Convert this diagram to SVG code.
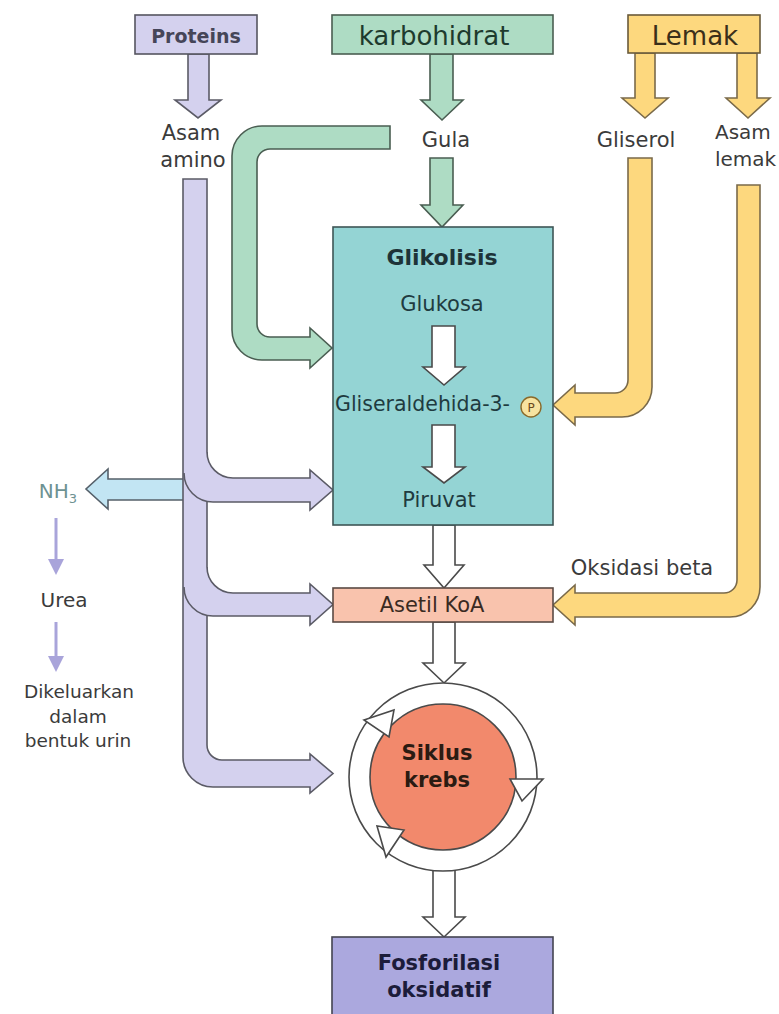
<svg xmlns="http://www.w3.org/2000/svg" width="779" height="1014" viewBox="0 0 779 1014">
<defs>
<style>
text{font-family:"DejaVu Sans","Liberation Sans",sans-serif;fill:#3b3b3b;text-anchor:middle}
.b{font-weight:bold}
.pur{fill:#d4d1ee;stroke:#5b5b66;stroke-width:1.6}
.grn{fill:#aedcc4;stroke:#4a5e52;stroke-width:1.6}
.yel{fill:#fdd87e;stroke:#7a6a4a;stroke-width:1.6}
.wht{fill:#ffffff;stroke:#4a4a4a;stroke-width:1.6}
.blu{fill:#c2e5f3;stroke:#55606a;stroke-width:1.6}
.lav{stroke:#a9a4da;stroke-width:3;fill:none}
.lavh{fill:#a9a4da}
</style>
</defs>
<rect width="779" height="1014" fill="#ffffff"/>
<g id="connectors">
<path class="pur" d="M188,54 L188,100 L175,100 L198,118 L221,100 L209,100 L209,54 Z"/>
<path class="grn" d="M430,54 L430,100 L421,100 L442,120 L463,100 L453,100 L453,54 Z"/>
<path class="grn" d="M430,158 L430,205 L421,205 L442,227 L463,205 L453,205 L453,158 Z"/>
<path class="grn" d="M390,126 L262,126 A30,30 0 0 0 232,156 L232,330 A30,30 0 0 0 262,360 L310,360 L310,368 L332,348 L310,328 L310,337 L270,337 A13,13 0 0 1 257,324 L257,162 A13,13 0 0 1 270,149 L390,149 Z"/>
<path class="yel" d="M635,53 L635,98 L622,98 L645,118 L668,98 L655,98 L655,53 Z"/>
<path class="yel" d="M737,53 L737,98 L726,98 L748,118 L770,98 L757,98 L757,53 Z"/>
<path class="yel" d="M628,158 L652,158 L652,387 A30,30 0 0 1 622,417 L575,417 L575,425 L553,405 L575,385 L575,393 L615,393 A13,13 0 0 0 628,380 Z"/>
<path class="yel" d="M737,185 L760,185 L760,587 A30,30 0 0 1 730,617 L575,617 L575,625 L553,605 L575,585 L575,593 L724,593 A13,13 0 0 0 737,580 Z"/>
<path class="blu" d="M184,479 L108,479 L108,469 L86,489 L108,509 L108,500 L184,500"/>
<path class="pur" d="M183,179 L183,757 A30,30 0 0 0 213,787 L310,787 L310,793 L333,773.5 L310,754 L310,760 L222,760 A15,15 0 0 1 207,745 L207,179 Z"/>
<path fill="#d4d1ee" d="M185,452 L207,452 A26,26 0 0 0 233,478 L310,478 L310,470 L333,490 L310,510 L310,502 L213,502 A29,29 0 0 1 184,473 Z"/>
<path fill="none" stroke="#5b5b66" stroke-width="1.6" d="M207,452 A26,26 0 0 0 233,478 L310,478 L310,470 L333,490 L310,510 L310,502 L213,502 A29,29 0 0 1 184,473"/>
<path fill="#d4d1ee" d="M185,567 L207,567 A26,26 0 0 0 233,593 L310,593 L310,584 L333,604.5 L310,625 L310,616 L213,616 A29,29 0 0 1 184,587 Z"/>
<path fill="none" stroke="#5b5b66" stroke-width="1.6" d="M207,567 A26,26 0 0 0 233,593 L310,593 L310,584 L333,604.5 L310,625 L310,616 L213,616 A29,29 0 0 1 184,587"/>
<path class="wht" d="M433,525 L433,565 L424,565 L444,588 L464,565 L455,565 L455,525 Z"/>
<path class="wht" d="M433,622 L433,663 L423,663 L444,683 L465,663 L455,663 L455,622 Z"/>
<path class="wht" d="M433,870 L433,917 L423,917 L444,937 L465,917 L455,917 L455,870 Z"/>
<line class="lav" x1="56" y1="518" x2="56" y2="562"/>
<polygon class="lavh" points="48,559 64,559 56,575"/>
<line class="lav" x1="56" y1="622" x2="56" y2="659"/>
<polygon class="lavh" points="48,656 64,656 56,672"/>
</g>
<g id="proteins">
<rect x="135" y="15" width="122" height="39" fill="#d4d1ee" stroke="#555560" stroke-width="1.6"/>
<text class="b" x="196" y="43" font-size="19" style="fill:#454558">Proteins</text>
</g>
<g id="karbohidrat">
<rect x="332" y="15" width="221" height="39" fill="#aedcc4" stroke="#4a5e52" stroke-width="1.6"/>
<text x="434" y="45" font-size="26" style="fill:#1e3b2e">karbohidrat</text>
</g>
<g id="lemak">
<rect x="628" y="15" width="132" height="38" fill="#fdd87e" stroke="#6a5a3a" stroke-width="1.6"/>
<text x="695" y="45" font-size="26" style="fill:#3b2f1a">Lemak</text>
</g>
<g id="asam-amino">
<text x="191" y="140" font-size="21">Asam</text>
<text x="193" y="167" font-size="21">amino</text>
</g>
<g id="gula">
<text x="446" y="147" font-size="21">Gula</text>
</g>
<g id="gliserol">
<text x="636" y="147" font-size="21">Gliserol</text>
</g>
<g id="asam-lemak">
<text x="715" y="139" font-size="20" style="text-anchor:start">Asam</text>
<text x="715" y="166" font-size="20" style="text-anchor:start">lemak</text>
</g>
<g id="glikolisis">
<rect x="333" y="227" width="220" height="298" fill="#94d4d4" stroke="#3e5555" stroke-width="1.6"/>
<text class="b" x="442" y="265" font-size="22" style="fill:#1d3338">Glikolisis</text>
<text x="442" y="311" font-size="21" style="fill:#1f3b40">Glukosa</text>
<path class="wht" d="M432,326 L432,367 L423,367 L444,385 L465,367 L455,367 L455,326 Z"/>
<text x="335" y="411" font-size="20.5" style="fill:#1f3b40;text-anchor:start">Gliseraldehida-3-</text>
<circle cx="531" cy="407" r="10" fill="#f7e3a0" stroke="#8a6a2a" stroke-width="1.4"/>
<text x="531" y="412" font-size="12" style="fill:#6a4a20">P</text>
<path class="wht" d="M432,425 L432,467 L423,467 L444,483 L465,467 L455,467 L455,425 Z"/>
<text x="439" y="507" font-size="21" style="fill:#1f3b40">Piruvat</text>
</g>
<g id="nh3">
<text x="58" y="498" font-size="20" style="fill:#6e9292">NH<tspan font-size="13" dy="5">3</tspan></text>
</g>
<g id="urea">
<text x="64" y="607" font-size="20">Urea</text>
</g>
<g id="dikeluarkan">
<text x="79" y="698" font-size="18.5">Dikeluarkan</text>
<text x="78" y="723" font-size="18.5">dalam</text>
<text x="78" y="747" font-size="18.5">bentuk urin</text>
</g>
<g id="oksidasi-beta">
<text x="642" y="575" font-size="21">Oksidasi beta</text>
</g>
<g id="asetil-koa">
<rect x="333" y="588" width="220" height="34" fill="#f9c3ad" stroke="#5a4a44" stroke-width="1.6"/>
<text x="432" y="612" font-size="21" style="fill:#3a2a22">Asetil KoA</text>
</g>
<g id="siklus-krebs">
<circle cx="443" cy="777" r="94" fill="#ffffff" stroke="#4a4a4a" stroke-width="1.6"/>
<circle cx="443" cy="777" r="73" fill="#f2896c" stroke="#4a4a4a" stroke-width="1.6"/>
<polygon class="wht" points="364,720 394,710 389,737"/>
<polygon class="wht" points="510,779 543,779 522,801"/>
<polygon class="wht" points="404,830 386,857 377,826"/>
<text class="b" x="437" y="760" font-size="21" style="fill:#2b1b12">Siklus</text>
<text class="b" x="437" y="787" font-size="21" style="fill:#2b1b12">krebs</text>
</g>
<g id="fosforilasi-oksidatif">
<rect x="332" y="937" width="221" height="85" fill="#aba8de" stroke="#444450" stroke-width="1.6"/>
<text class="b" x="439" y="970" font-size="21" style="fill:#1c1c3a">Fosforilasi</text>
<text class="b" x="439" y="997" font-size="21" style="fill:#1c1c3a">oksidatif</text>
</g>
</svg>
